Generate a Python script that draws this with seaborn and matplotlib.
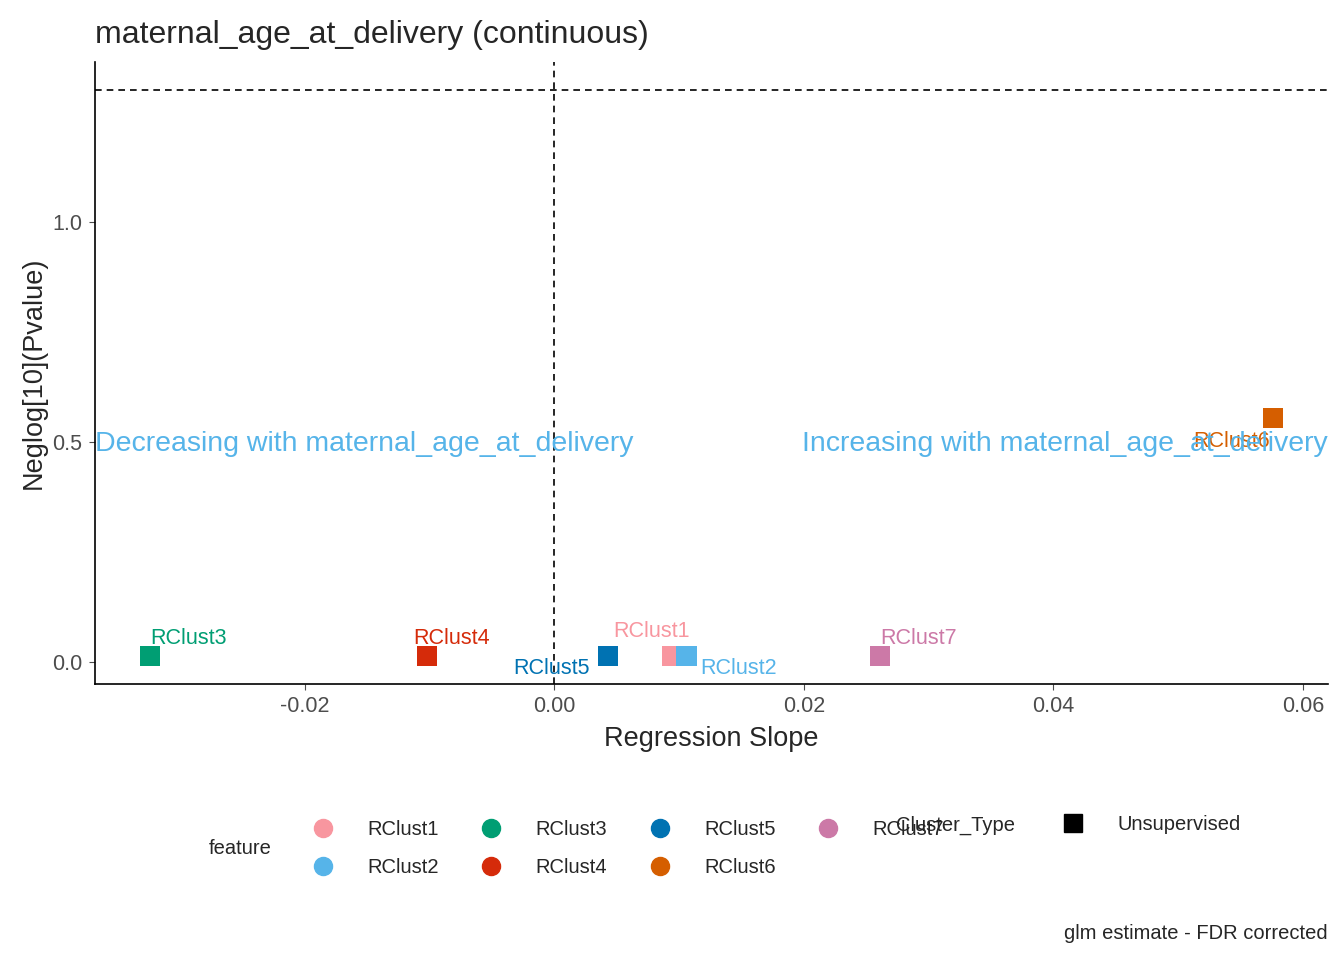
import matplotlib
matplotlib.use("Agg")
import matplotlib.pyplot as plt
import seaborn as sns
import pandas as pd
from matplotlib.lines import Line2D

features = ["RClust1","RClust2","RClust3","RClust4","RClust5","RClust6","RClust7"]
slopes = [0.0095, 0.0106, -0.0324, -0.0102, 0.0043, 0.0576, 0.0261]
neglogp = [0.0136, 0.0136, 0.0136, 0.0136, 0.0136, 0.555, 0.0136]
colors = ["#F8969F","#56B4E9","#009E73","#D52B0A","#0072B2","#D55E00","#CC79A7"]
# label offsets in pixels (layout only)
offsets = {"RClust1":(-60,25),"RClust2":(14,-12),"RClust3":(0,18),"RClust4":(-14,18),
           "RClust5":(-95,-12),"RClust6":(-80,-23),"RClust7":(0,18)}
df = pd.DataFrame({"feature":features,"slope":slopes,"nlp":neglogp})
pal = dict(zip(features, colors))

sns.set_style("white")
plt.rcParams['font.family'] = ['Liberation Sans','DejaVu Sans']
fig = plt.figure(figsize=(13.44,9.6), dpi=100)
ax = fig.add_axes([0.0707,0.2875,0.9173,0.6475])
sns.scatterplot(data=df, x="slope", y="nlp", hue="feature", palette=pal, marker="s",
                s=220, linewidth=0, ax=ax, legend=False, zorder=3)
ax.axhline(1.30103, color="black", ls=(0,(4,3)), lw=1.2)
ax.axvline(0, color="black", ls=(0,(4,3)), lw=1.2)
for f, x, y in zip(features, slopes, neglogp):
    dx, dy = offsets[f]
    ax.annotate(f, (x, y), xytext=(dx*0.72, dy*0.72), textcoords="offset points",
                color=pal[f], fontsize=15.5, ha="left", va="center")
ax.set_xlim(-0.0368, 0.0620)
ax.set_ylim(-0.05, 1.364)
ax.text(-0.0368, 0.495, "Decreasing with maternal_age_at_delivery", color="#56B4E9",
        fontsize=20.5, ha="left", va="center")
ax.text(0.0620, 0.495, "Increasing with maternal_age_at_delivery", color="#56B4E9",
        fontsize=20.5, ha="right", va="center")
ax.set_xticks([-0.02,0.0,0.02,0.04,0.06])
ax.set_xticklabels(["-0.02","0.00","0.02","0.04","0.06"])
ax.set_yticks([0.0,0.5,1.0])
ax.set_yticklabels(["0.0","0.5","1.0"])
ax.tick_params(labelsize=15.5, colors="#4D4D4D", length=4, pad=5, left=True, bottom=True)
for s in ["top","right"]:
    ax.spines[s].set_visible(False)
for s in ["left","bottom"]:
    ax.spines[s].set_color("black"); ax.spines[s].set_linewidth(1.2)
ax.set_xlabel("Regression Slope", fontsize=19.5, labelpad=6)
ax.set_ylabel("Neglog[10](Pvalue)", fontsize=19.5, labelpad=4)
ax.set_title("maternal_age_at_delivery (continuous)", fontsize=23, loc="left", x=0.0, pad=14)

handles = [Line2D([],[],marker="o",ls="",color=c,markersize=13) for c in colors]
fig.legend(handles, features, ncol=4, loc="center left", bbox_to_anchor=(0.212,0.116),
           frameon=False, fontsize=14.5, columnspacing=1.6, handletextpad=1.2,
           labelspacing=0.95)
fig.text(0.155, 0.116, "feature", fontsize=14.5, va="center")
fig.text(0.667, 0.140, "Cluster_Type", fontsize=14.5, va="center")
h2 = [Line2D([],[],marker="s",ls="",color="black",markersize=13)]
fig.legend(h2, ["Unsupervised"], loc="center left", bbox_to_anchor=(0.770,0.141),
           frameon=False, fontsize=14.5, handletextpad=1.2)
fig.text(0.988, 0.028, "glm estimate - FDR corrected", fontsize=14.5, ha="right", va="center")
fig.savefig("out.png", dpi=100)
